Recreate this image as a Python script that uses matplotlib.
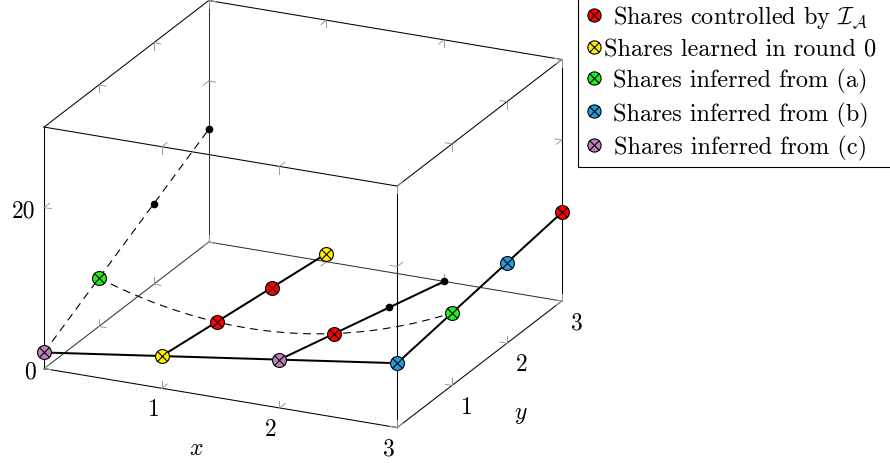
import numpy as np
import matplotlib
matplotlib.use("Agg")
import matplotlib.pyplot as plt
from matplotlib.lines import Line2D
from matplotlib.legend_handler import HandlerTuple

plt.rcParams['font.family'] = ['cmr10', 'DejaVu Serif']
plt.rcParams['mathtext.fontset'] = 'cm'
plt.rcParams['axes.unicode_minus'] = False
plt.rcParams['axes3d.automargin'] = False

# ---------------- data ----------------
grid_y = [0, 1, 2, 3]
# front line (y = 0)
front_x = [0, 1, 2, 3]
front_z = [2, 4, 6, 8]
# lines along y for each x
line_x0_z = [2, 6, 10, 14]   # dashed
line_x1_z = [4, 3, 2, 1]
line_x2_z = [6, 4, 2, 0]
line_x3_z = [8, 9, 10, 11]
# dashed smooth curve at y = 1
curve_x = [0, 1, 2, 3]
curve_y_val = 1
curve_z = [6, 3, 4, 9]

# marker groups
ctrl_x, ctrl_y, ctrl_z = [1, 1, 2, 3], [1, 2, 1, 3], [3, 2, 4, 11]
learn_x, learn_y, learn_z = [1, 1], [0, 3], [4, 1]
infa_x, infa_y, infa_z = [0, 3], [1, 1], [6, 9]
infb_x, infb_y, infb_z = [3, 3], [0, 2], [8, 10]
infc_x, infc_y, infc_z = [0, 2], [0, 0], [2, 6]
dot_x, dot_y, dot_z = [0, 0, 2, 2], [2, 3, 2, 3], [10, 14, 2, 0]

labels = [r"Shares controlled by $\mathcal{I}_\mathcal{A}$",
          "Shares learned in round 0",
          "Shares inferred from (a)",
          "Shares inferred from (b)",
          "Shares inferred from (c)"]
colors = ["#FF0000", "#FFEE00", "#22EE22", "#1CA0E0", "#C080C0"]

x_ticks = [1, 2, 3]
y_ticks = [1, 2, 3]
z_ticks = [0, 20]
xlim, ylim, zlim = (0, 3), (0, 3), (0, 30)

# ---------------- figure ----------------
W, H = 890, 464
fig = plt.figure(figsize=(W / 100, H / 100), dpi=100)
S = 440
ax = fig.add_axes([77 / W, 23 / H, S / W, S / H], projection='3d', proj_type='ortho')
ax.set_xlim(*xlim)
ax.set_ylim(*ylim)
ax.set_zlim(*zlim)
ax.set_box_aspect((1, 1, 0.664), zoom=1.343)
ax.view_init(elev=21, azim=-65)
ax.set_axis_off()
ax.computed_zorder = False

# box edges
x0, x1 = xlim; y0, y1 = ylim; z0, z1 = zlim
corners = [(a, b, c) for a in xlim for b in ylim for c in zlim]
hidden = (x0, y1, z0)
for p in corners:
    for q in corners:
        if p < q and sum(pi != qi for pi, qi in zip(p, q)) == 1:
            col = '#333333' if (p == hidden or q == hidden) else 'black'
            ax.plot([p[0], q[0]], [p[1], q[1]], [p[2], q[2]], color=col,
                    lw=0.75, zorder=1, clip_on=False)

# tick marks (grey, pointing inward on all four parallel edges)
tcol = '#9a9a9a'
tl = {'x': 0.06, 'y': 0.1, 'z': 0.9}
lims = {'x': xlim, 'y': ylim, 'z': zlim}
for axis, ticks in (('x', x_ticks), ('y', y_ticks), ('z', z_ticks)):
    others = [k for k in 'xyz' if k != axis]
    for t in ticks:
        for va in lims[others[0]]:
            for vb in lims[others[1]]:
                base = {axis: t, others[0]: va, others[1]: vb}
                for k, v in ((others[0], va), (others[1], vb)):
                    sgn = 1 if v == lims[k][0] else -1
                    end = dict(base)
                    end[k] = v + sgn * tl[k]
                    ax.plot([base['x'], end['x']], [base['y'], end['y']],
                            [base['z'], end['z']], color=tcol, lw=0.7,
                            zorder=1, clip_on=False)

# tick labels
fs = 17
for t in x_ticks:
    ax.text(t, -0.15, -1.8, str(t), ha='center', va='center', fontsize=fs, clip_on=False)
for t in y_ticks:
    ax.text(3.13, t, -2.3, str(t), ha='center', va='center', fontsize=fs, clip_on=False)
for t in z_ticks:
    ax.text(-0.07, 0, t - 0.5, str(t), ha='right', va='center', fontsize=fs, clip_on=False)
ax.text(1.5, -0.45, -3.8, r'$x$', ha='center', va='center', fontsize=fs, clip_on=False)
ax.text(3.35, 1.5, -5.3, r'$y$', ha='center', va='center', fontsize=fs, clip_on=False)

# dashed lines
dash = (0, (7, 5))
ax.plot([0] * 4, grid_y, line_x0_z, color='black', lw=0.8, ls=dash, zorder=2, clip_on=False)
coef = np.polyfit(curve_x, curve_z, 2)
cx = np.linspace(curve_x[0], curve_x[-1], 120)
ax.plot(cx, np.full_like(cx, curve_y_val), np.polyval(coef, cx), color='black',
        lw=0.8, ls=dash, zorder=2, clip_on=False)

# solid lines
slw = 1.45
ax.plot(front_x, [0] * 4, front_z, color='black', lw=slw, zorder=3, clip_on=False)
for xv, zs in ((1, line_x1_z), (2, line_x2_z), (3, line_x3_z)):
    ax.plot([xv] * 4, grid_y, zs, color='black', lw=slw, zorder=3, clip_on=False)

# black dots
ax.plot(dot_x, dot_y, dot_z, 'o', ms=4.5, color='black', zorder=4, clip_on=False)

# otimes markers
groups = [(ctrl_x, ctrl_y, ctrl_z), (learn_x, learn_y, learn_z), (infa_x, infa_y, infa_z),
          (infb_x, infb_y, infb_z), (infc_x, infc_y, infc_z)]
handles = []
for (gx, gy, gz), c in zip(groups, colors):
    ax.plot(gx, gy, gz, 'o', ms=10, mfc=c, mec='black', mew=0.8, zorder=5, clip_on=False)
    ax.plot(gx, gy, gz, 'x', ms=7, mec='black', mew=0.8, zorder=6, clip_on=False)
    h1 = Line2D([], [], marker='o', ls='none', ms=9.5, mfc=c, mec='black', mew=0.8)
    h2 = Line2D([], [], marker='x', ls='none', ms=6.7, mec='black', mew=0.8)
    handles.append((h1, h2))

lfs = 17.5
leg = fig.legend(handles, labels, loc='lower left',
                 bbox_to_anchor=(578 / W, 296 / H, 330 / W, 0.0),
                 bbox_transform=fig.transFigure, borderaxespad=0, fontsize=lfs,
                 mode='expand',
                 handler_map={tuple: HandlerTuple(ndivide=1)},
                 frameon=True, fancybox=False, framealpha=1, edgecolor='black',
                 borderpad=0.3, handlelength=0.75, handletextpad=0.05, labelspacing=0.33)
leg.get_frame().set_linewidth(0.8)

# centre each legend text within the column (as in the reference)
fig.canvas.draw()
rend = fig.canvas.get_renderer()
widths = [t.get_window_extent(rend).width for t in leg.get_texts()]
wmax = max(widths)
rows = leg._legend_handle_box.get_children()[0].get_children()
base_sep = 0.6
for row, w in zip(rows, widths):
    row.sep = base_sep + (wmax - w) / 2 * 72 / fig.dpi

fig.savefig('out.png', dpi=100)
